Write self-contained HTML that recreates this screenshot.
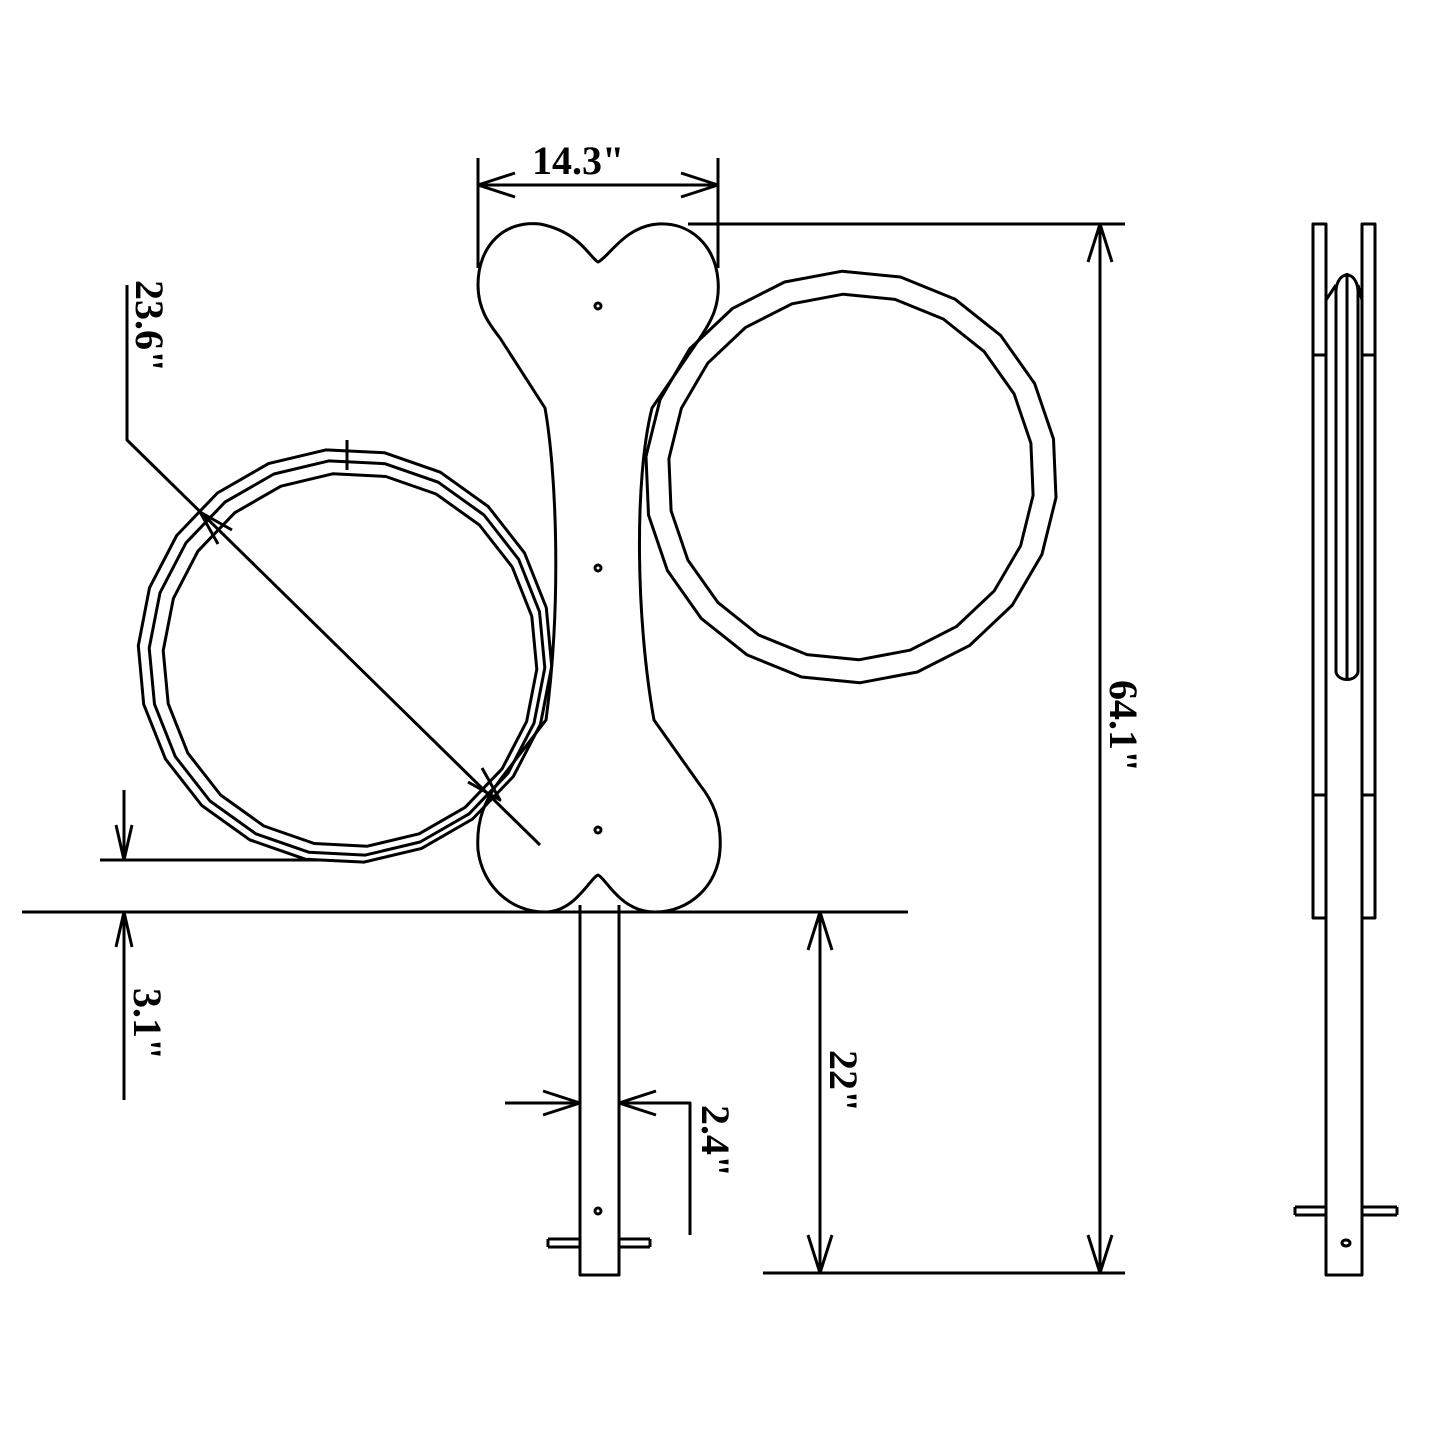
<!DOCTYPE html>
<html><head><meta charset="utf-8"><style>
html,body{margin:0;padding:0;background:#fff;}
svg{display:block}
text{font-family:"Liberation Serif",serif;font-weight:bold;font-size:40px;fill:#000}
</style></head><body>
<svg id="s" width="1445" height="1445" viewBox="0 0 1445 1445" xmlns="http://www.w3.org/2000/svg">
<g fill="none" stroke="#000" stroke-width="3" stroke-linejoin="round">
<!-- bone -->
<path fill="#fff" d="M598,262 C590,258 580,232 540,224 C505,220 478,245 478,285 C478,310 490,325 500,338 L545,408 C556,470 562,600 546,720 L500,780 C485,800 476,820 478,850 C482,885 510,912 545,912 C575,912 590,878 598,875 C606,878 620,912 655,912 C690,912 718,885 720,850 C722,820 712,800 700,785 L654,720 C636,620 634,480 652,408 L700,338 C712,320 720,305 718,280 C715,245 690,222 658,224 C625,226 608,258 598,262 Z"/>
<g id="rings"></g>
<circle cx="598" cy="306" r="3"/><circle cx="598" cy="568" r="3"/><circle cx="598" cy="830" r="3"/>
<!-- post -->
<path d="M580,905 V1275 H619 V905"/>
<path d="M548,1239 H580 M548,1247 H580 M548,1239 v8 M619,1239 H650 M619,1247 H650 M650,1239 v8"/>
<circle cx="598" cy="1211" r="3"/>
<!-- dims -->
<path d="M22,912 H908 M100,860 H320 M124,790 V860 M124,912 V1100 M116,825 L124,860 L132,825 M116,947 L124,912 L132,947"/>
<path d="M127,285 V440 L540,845 M218,544 L200,512 L232,530 M468,782 L500,800 L482,768"/>
<path d="M478,158 V268 M718,158 V268 M478,185 H718 M515,173 L478,185 L515,197 M681,173 L718,185 L681,197"/>
<path d="M688,224 H1125 M763,1273 H1125 M1100,224 V1273 M1088,262 L1100,224 L1112,262 M1088,1235 L1100,1273 L1112,1235"/>
<path d="M820,912 V1273 M808,950 L820,912 L832,950 M808,1235 L820,1273 L832,1235"/>
<path d="M505,1103 H580 M543,1091 L580,1103 L543,1115 M619,1103 H690 V1235 M656,1091 L619,1103 L656,1115"/>
<path d="M347,440 V470"/>
<!-- side view -->
<path d="M1313,224 H1326 V918 H1313 Z M1362,224 H1375 V918 H1362 Z M1313,355 H1326 M1362,355 H1375 M1313,795 H1326 M1362,795 H1375"/>
<path d="M1326,280 V1275 H1362 V280"/>
<path d="M1336,290 C1338,270 1356,270 1358,290 V672 C1356,682 1338,682 1336,672 Z M1347,273 V680 M1326,300 L1336,285 M1362,300 L1358,285"/>
<path d="M1295,1207 H1326 M1295,1215 H1326 M1295,1207 v8 M1362,1207 H1397 M1362,1215 H1397 M1397,1207 v8"/>
<ellipse cx="1346" cy="1243" rx="4" ry="3"/>
</g>
<text x="532" y="174">14.3"</text>
<text transform="translate(136,280) rotate(90)">23.6"</text>
<text transform="translate(134,988) rotate(90)">3.1"</text>
<text transform="translate(1110,680) rotate(90)">64.1"</text>
<text transform="translate(830,1050) rotate(90)">22"</text>
<text transform="translate(702,1105) rotate(90)">2.4"</text>
</svg>
<script>
var g=document.getElementById('rings');
function poly(cx,cy,r,n,off){var p=[];for(var i=0;i<n;i++){var a=off+i*2*Math.PI/n;p.push((cx+r*Math.cos(a)).toFixed(1)+','+(cy+r*Math.sin(a)).toFixed(1));}
var e=document.createElementNS('http://www.w3.org/2000/svg','polygon');e.setAttribute('points',p.join(' '));g.appendChild(e);}
poly(345,656,207,22,0.05);poly(347,658,198,22,0.05);poly(350,660,187,22,0.05);
poly(851,477,206,22,0.1);poly(851,477,183,22,0.1);
</script>
</body></html>
